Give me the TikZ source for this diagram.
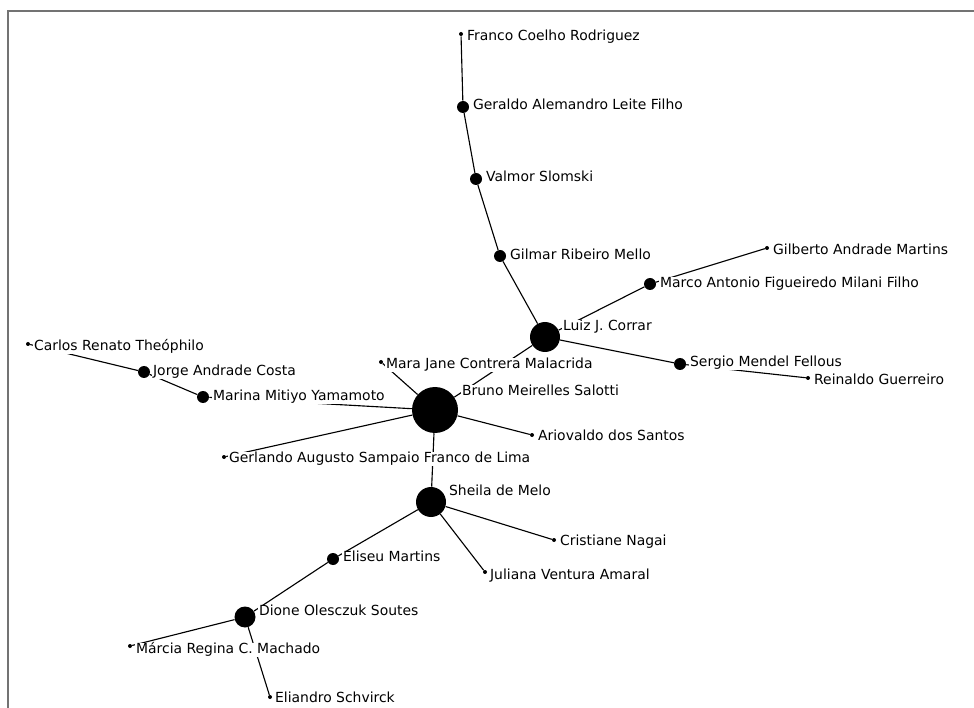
\documentclass[tikz,border=0pt]{standalone}
\usepackage{fontspec}
\setmainfont{DejaVu Sans}
\begin{document}
\begin{tikzpicture}[x=0.025cm,y=-0.025cm,font=\fontsize{9.9}{12}\selectfont,
    person/.style={circle,fill=black,draw=none,inner sep=0pt,minimum size={#1*0.025cm}},
    lbl/.style={anchor=west,fill=white,inner sep=0.6pt,text height=7.4pt,text depth=2pt}]
    \useasboundingbox (0,0) rectangle (974,708);
    \draw[black!55,line width=1pt] (8,708) -- (8,11) -- (974,11);
    % actors
    \node[person=4]  (franco)    at (461,34)  {};
    \node[person=12] (geraldo)   at (463,107) {};
    \node[person=12] (valmor)    at (476,179) {};
    \node[person=12] (gilmar)    at (500,256) {};
    \node[person=30] (luiz)      at (545,337) {};
    \node[person=12] (marco)     at (650,284) {};
    \node[person=4]  (gilberto)  at (767,248) {};
    \node[person=12] (sergio)    at (680,364) {};
    \node[person=4]  (reinaldo)  at (808,378) {};
    \node[person=46] (bruno)     at (435,410) {};
    \node[person=4]  (mara)      at (381,362) {};
    \node[person=12] (marina)    at (203,397) {};
    \node[person=12] (jorge)     at (144,372) {};
    \node[person=4]  (carlos)    at (28,344)  {};
    \node[person=4]  (ariovaldo) at (532,435) {};
    \node[person=4]  (gerlando)  at (224,457) {};
    \node[person=30] (sheila)    at (431,502) {};
    \node[person=4]  (cristiane) at (554,540) {};
    \node[person=4]  (juliana)   at (485,572) {};
    \node[person=12] (eliseu)    at (333,559) {};
    \node[person=21] (dione)     at (245,617) {};
    \node[person=4]  (marcia)    at (130,646) {};
    \node[person=4]  (eliandro)  at (270,697) {};
    % ties
    \foreach \a/\b in {franco/geraldo,geraldo/valmor,valmor/gilmar,gilmar/luiz,
        luiz/marco,marco/gilberto,luiz/sergio,sergio/reinaldo,luiz/bruno,
        bruno/mara,bruno/marina,marina/jorge,jorge/carlos,bruno/ariovaldo,
        bruno/gerlando,bruno/sheila,sheila/cristiane,sheila/juliana,
        sheila/eliseu,eliseu/dione,dione/marcia,dione/eliandro}
        \draw[line width=0.8pt] (\a) -- (\b);
    % names
    \node[lbl] (l-franco)    at (466,37)  {Franco Coelho Rodriguez};
    \node[lbl] (l-geraldo)   at (472,106) {Geraldo Alemandro Leite Filho};
    \node[lbl] (l-valmor)    at (485,178) {Valmor Slomski};
    \node[lbl] (l-gilmar)    at (509,256) {Gilmar Ribeiro Mello};
    \node[lbl] (l-marco)     at (659,284) {Marco Antonio Figueiredo Milani Filho};
    \node[lbl] (l-gilberto)  at (772,251) {Gilberto Andrade Martins};
    \node[lbl] (l-luiz)      at (562,327) {Luiz J. Corrar};
    \node[lbl] (l-sergio)    at (689,363) {Sergio Mendel Fellous};
    \node[lbl] (l-reinaldo)  at (813,381) {Reinaldo Guerreiro};
    \node[lbl] (l-mara)      at (385,365) {Mara Jane Contrera Malacrida};
    \node[lbl] (l-bruno)     at (461,392) {Bruno Meirelles Salotti};
    \node[lbl] (l-marina)    at (212,397) {Marina Mitiyo Yamamoto};
    \node[lbl] (l-jorge)     at (152,372) {Jorge Andrade Costa};
    \node[lbl] (l-carlos)    at (33,347)  {Carlos Renato Theóphilo};
    \node[lbl] (l-ariovaldo) at (537,437) {Ariovaldo dos Santos};
    \node[lbl] (l-gerlando)  at (228,459) {Gerlando Augusto Sampaio Franco de Lima};
    \node[lbl] (l-sheila)    at (448,492) {Sheila de Melo};
    \node[lbl] (l-cristiane) at (559,542) {Cristiane Nagai};
    \node[lbl] (l-juliana)   at (489,576) {Juliana Ventura Amaral};
    \node[lbl] (l-eliseu)    at (342,558) {Eliseu Martins};
    \node[lbl] (l-dione)     at (258,612) {Dione Olesczuk Soutes};
    \node[lbl] (l-marcia)    at (135,650) {Márcia Regina C. Machado};
    \node[lbl] (l-eliandro)  at (274,699) {Eliandro Schvirck};
\end{tikzpicture}
\end{document}
